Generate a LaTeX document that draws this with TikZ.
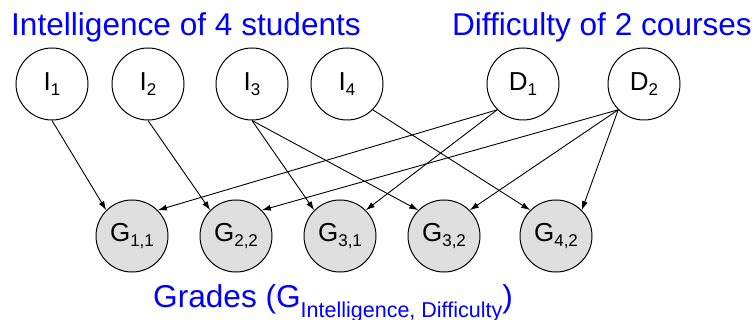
\documentclass[tikz,border=0pt]{standalone}
\usepackage{fontspec}
\setmainfont{Liberation Sans}
\usetikzlibrary{arrows.meta}

% node label: main letter with a lowered subscript
\newcommand{\nodelab}[2]{\fontsize{26}{26}\selectfont #1\raisebox{-5pt}{\fontsize{17}{17}\selectfont #2}}

\tikzset{
  var/.style={circle, draw=black, line width=1pt, minimum size=72pt, inner sep=0pt},
  obs/.style={var, fill=gray!25},
  title/.style={text=blue, inner sep=0pt, font=\fontsize{31.6}{31.6}\selectfont},
  edge/.style={line width=0.9pt, -{Latex[length=9pt,width=6pt]}}
}

\begin{document}
\begin{tikzpicture}[x=1pt,y=-1pt]
\useasboundingbox (0,0) rectangle (754,320);

% titles
\node[title, anchor=base west] (tI) at (11,36) {Intelligence of 4 students};
\node[title, anchor=base east] (tD) at (752,36) {Difficulty of 2 courses};
\node[title, anchor=base west] (tG) at (153,307)
  {Grades (G\raisebox{-10pt}{\fontsize{21.5}{21.5}\selectfont Intelligence, Difficulty})};

% intelligence and difficulty variables
\node[var] (I1) at (52,84)  {\nodelab{I}{1}};
\node[var] (I2) at (148,84) {\nodelab{I}{2}};
\node[var] (I3) at (252,84) {\nodelab{I}{3}};
\node[var] (I4) at (347,84) {\nodelab{I}{4}};
\node[var] (D1) at (523,84) {\nodelab{D}{1}};
\node[var] (D2) at (644,84) {\nodelab{D}{2}};

% grades
\node[obs] (G11) at (132,236) {\nodelab{G}{1,1}};
\node[obs] (G22) at (236,236) {\nodelab{G}{2,2}};
\node[obs] (G31) at (340,236) {\nodelab{G}{3,1}};
\node[obs] (G32) at (444,236) {\nodelab{G}{3,2}};
\node[obs] (G42) at (556,236) {\nodelab{G}{4,2}};

% dependencies
\draw[edge] (I1.south) -- (G11.north west);
\draw[edge] (I2.south) -- (G22.north west);
\draw[edge] (I3.south) -- (G31.north west);
\draw[edge] (I3.south) -- (G32.north west);
\draw[edge] (I4.south east) -- (G42.north west);
\draw[edge] (D1.south west) -- (G11.north east);
\draw[edge] (D1.south west) -- (G31.north east);
\draw[edge] (D2.south west) -- (G22.north east);
\draw[edge] (D2.south west) -- (G32.north east);
\draw[edge] (D2.south west) -- (G42.north east);
\end{tikzpicture}
\end{document}
